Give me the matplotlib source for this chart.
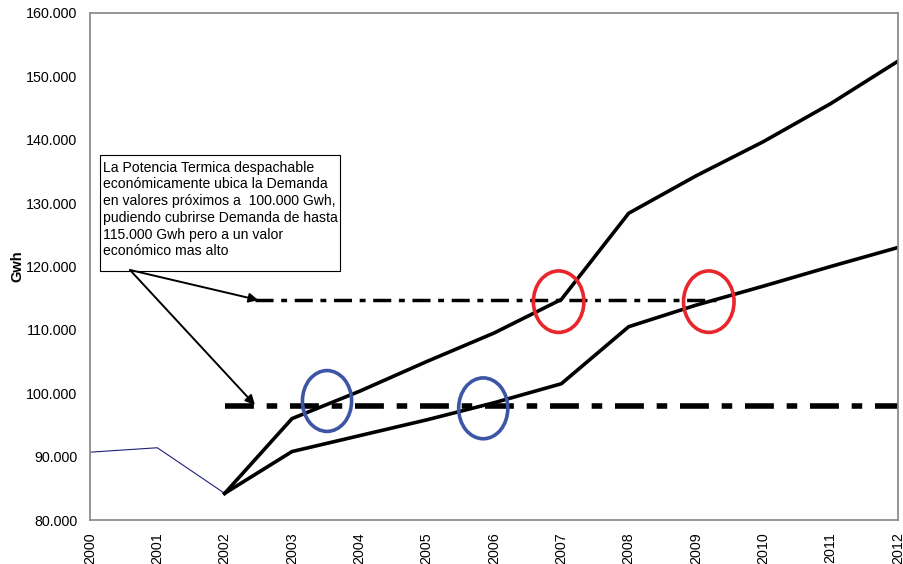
import matplotlib
matplotlib.use("Agg")
import matplotlib.pyplot as plt
from matplotlib.patches import Ellipse, Rectangle
from matplotlib.ticker import FuncFormatter

plt.rcParams['font.family'] = ['Liberation Sans', 'DejaVu Sans']

years = list(range(2000, 2013))
hist_years = [2000, 2001, 2002]
hist_vals = [90700, 91400, 84200]
proj_years = list(range(2002, 2013))
high_vals = [84200, 96000, 100300, 105000, 109500, 114800, 128400, 134300, 139700, 145700, 152400]
low_vals = [84200, 90800, 93300, 95800, 98500, 101500, 110500, 113900, 116900, 120000, 123000]

upper_limit = 114700
upper_span = [2002.45, 2009.3]
lower_limit = 98000
lower_span = [2002.0, 2012.0]

blue_circles = [(2003.52, 98780), (2005.84, 97620)]
red_circles = [(2006.96, 114450), (2009.19, 114450)]

note = ("La Potencia Termica despachable\n"
        "económicamente ubica la Demanda\n"
        "en valores próximos a  100.000 Gwh,\n"
        "pudiendo cubrirse Demanda de hasta\n"
        "115.000 Gwh pero a un valor\n"
        "económico mas alto")

fig = plt.figure(figsize=(9.04, 5.64), dpi=100)
ax = fig.add_axes([90/904, 44/564, 808/904, 507/564])

ax.plot(hist_years, hist_vals, color='#1f1f78', lw=0.8)
ax.plot(proj_years, high_vals, color='black', lw=2.6, solid_joinstyle='miter')
ax.plot(proj_years, low_vals, color='black', lw=2.6, solid_joinstyle='miter')

ax.plot(upper_span, [upper_limit]*2, color='black', lw=2.5,
        linestyle=(0, (5.2, 2.2, 1.7, 2.2)), dash_capstyle='butt')
ax.plot(lower_span, [lower_limit]*2, color='black', lw=4.0,
        linestyle=(0, (5.2, 2.3, 1.9, 2.3)), dash_capstyle='butt')

for (cx, cy) in blue_circles:
    ax.add_patch(Ellipse((cx, cy), 0.73, 9600, fill=False, ec='#3c55a5', lw=2.6, zorder=5))
for (cx, cy) in red_circles:
    ax.add_patch(Ellipse((cx, cy), 0.75, 9700, fill=False, ec='#e8262b', lw=2.6, zorder=5))

# annotation box
ax.add_patch(Rectangle((2000.15, 119300), 3.56, 18300, fill=True, fc='white',
                       ec='black', lw=0.8, zorder=6))
ax.text(2000.19, 136700, note, ha='left', va='top', fontsize=10.1,
        linespacing=1.25, zorder=7)

start = (2000.594, 119450)
ax.annotate('', xy=(2002.5, upper_limit), xytext=start,
            arrowprops=dict(arrowstyle='-|>', color='black', lw=1.4,
                            mutation_scale=14, shrinkA=0, shrinkB=0), zorder=8)
ax.annotate('', xy=(2002.45, lower_limit + 150), xytext=start,
            arrowprops=dict(arrowstyle='-|>', color='black', lw=1.4,
                            mutation_scale=14, shrinkA=0, shrinkB=0), zorder=8)

ax.set_xlim(2000, 2012)
ax.set_ylim(80000, 160000)
ax.set_xticks(years)
ax.set_xticklabels([str(y) for y in years], rotation=90, fontsize=10)
ax.set_yticks(range(80000, 160001, 10000))
ax.yaxis.set_major_formatter(FuncFormatter(lambda v, p: f"{v:,.0f}".replace(",", ".")))
ax.tick_params(axis='both', length=0, labelsize=10.3, pad=9)
for s in ax.spines.values():
    s.set_color('#8c8c8c')
    s.set_linewidth(1.3)
ax.set_ylabel('Gwh', fontsize=10.5, fontweight='bold', labelpad=1)

fig.savefig('out.png', dpi=100)
